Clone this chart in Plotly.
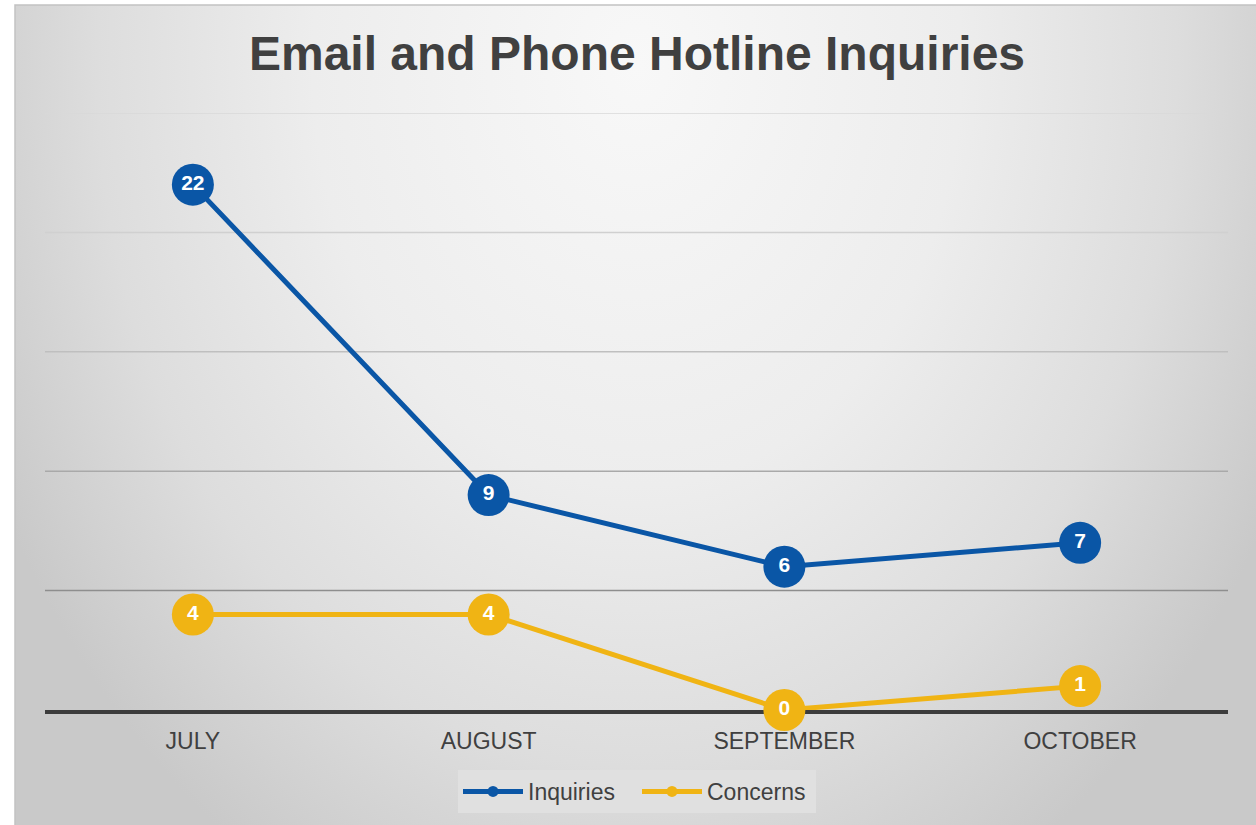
import base64
import plotly.graph_objects as go

months = ["JULY", "AUGUST", "SEPTEMBER", "OCTOBER"]
inquiries = [22, 9, 6, 7]
concerns = [4, 4, 0, 1]
grid_values = [5, 10, 15, 20, 25]
grid_colors = ["#8e8e8e", "#a9a9a9", "#bfbfbf", "#d0d0d0", "#d9d9d9"]

BLUE = "#0A56A6"
GOLD = "#F0B414"
TEXT = "#404040"
FONT = "Liberation Sans, Arial, sans-serif"

W, H = 1256, 825
L, R, T, B = 45, 28, 113, 115
PW, PH = W - L - R, H - T - B

# radial gradient background as SVG image
svg = (
    '<svg xmlns="http://www.w3.org/2000/svg" width="1241" height="820" viewBox="0 0 1241 820" preserveAspectRatio="none">'
    '<defs><radialGradient id="g" gradientUnits="userSpaceOnUse" cx="622" cy="60" r="720" '
    'gradientTransform="translate(622 60) scale(1 1.3) translate(-622 -60)">'
    '<stop offset="0" stop-color="#f8f8f8"/>'
    '<stop offset="0.45" stop-color="#ededed"/>'
    '<stop offset="0.75" stop-color="#dddddd"/>'
    '<stop offset="1" stop-color="#c9c9c9"/>'
    '</radialGradient></defs>'
    '<rect x="0" y="0" width="1241" height="820" fill="url(#g)"/></svg>'
)
src = "data:image/svg+xml;base64," + base64.b64encode(svg.encode()).decode()


def px_x(p):
    return (p - L) / PW


def px_y(p):
    return (H - B - p) / PH


fig = go.Figure()

for name, vals, col in [("Inquiries", inquiries, BLUE), ("Concerns", concerns, GOLD)]:
    fig.add_trace(go.Scatter(
        x=months, y=vals, mode="lines+markers+text", name=name,
        text=[str(v) for v in vals], textposition="middle center",
        textfont=dict(color="white", size=21, family=FONT, weight="bold"),
        line=dict(color=col, width=5),
        marker=dict(color=col, size=42, line=dict(width=0)),
        cliponaxis=False, showlegend=False, hoverinfo="x+y",
    ))

for name, col in [("Inquiries", BLUE), ("Concerns", GOLD)]:
    fig.add_trace(go.Scatter(
        x=[None], y=[None], mode="lines+markers", name=name,
        line=dict(color=col, width=5), marker=dict(color=col, size=11),
    ))

shapes = []
for v, c in zip(grid_values, grid_colors):
    shapes.append(dict(type="line", xref="paper", yref="y", x0=0, x1=1, y0=v, y1=v,
                       line=dict(color=c, width=1.5), layer="below"))
shapes.append(dict(type="rect", xref="paper", yref="paper",
                   x0=px_x(15), x1=px_x(W + 5), y0=px_y(5), y1=px_y(H + 5),
                   line=dict(color="#c2c2c2", width=1.5), layer="below"))

fig.update_layout(
    width=W, height=H,
    margin=dict(l=L, r=R, t=T, b=B),
    paper_bgcolor="white", plot_bgcolor="rgba(0,0,0,0)",
    images=[dict(source=src, xref="paper", yref="paper",
                 x=px_x(15), y=px_y(5), sizex=1241 / PW, sizey=820 / PH,
                 xanchor="left", yanchor="top", sizing="stretch", layer="below")],
    shapes=shapes,
    title=dict(text="Email and Phone Hotline Inquiries", x=px_x(637), xref="paper",
               y=1 - 53 / H, yref="container", xanchor="center", yanchor="middle",
               font=dict(size=48, color=TEXT, family=FONT, weight="bold")),
    xaxis=dict(type="category", range=[-0.5, 3.5], showgrid=False, zeroline=False,
               showline=True, linecolor="#3c3c3c", linewidth=3.5, layer="below traces",
               ticks="", ticklabelstandoff=8,
               tickfont=dict(size=23, color=TEXT, family=FONT)),
    yaxis=dict(range=[0, 25], showgrid=False, zeroline=False, showticklabels=False,
               showline=False, ticks=""),
    legend=dict(orientation="h", x=px_x(637), xanchor="center", xref="paper",
                y=1 - 770 / H, yref="container", yanchor="top",
                bgcolor="#e0e0e0", font=dict(size=23, color=TEXT, family=FONT),
                itemwidth=60, entrywidth=104, tracegroupgap=0),
    hovermode="closest",
)

fig.write_html("out.html", config={"displayModeBar": False},
               post_script="document.body.style.margin='0';")
